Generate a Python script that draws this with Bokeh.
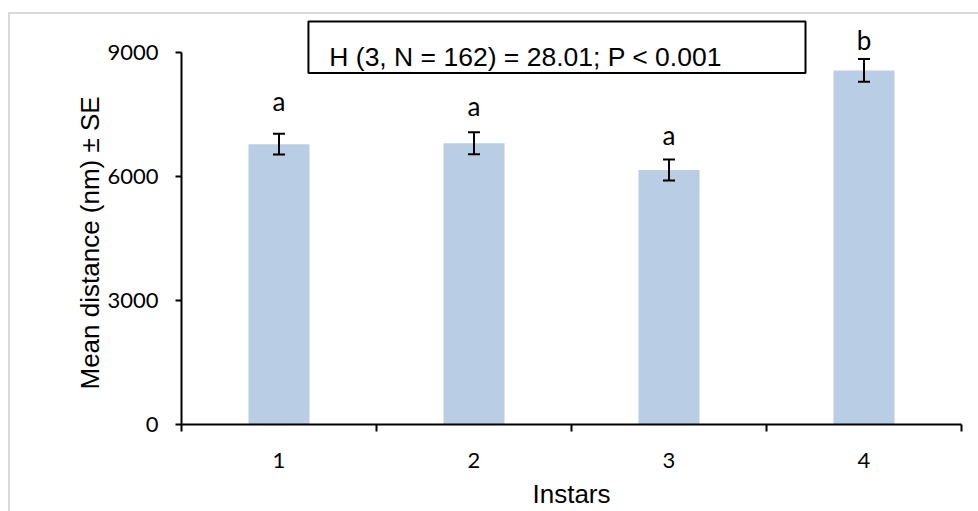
from bokeh.plotting import figure
from bokeh.models import (ColumnDataSource, Range1d, FixedTicker, Whisker, TeeHead,
                          BoxAnnotation, Label, Title, InlineStyleSheet)
from bokeh.embed import file_html
from bokeh.resources import INLINE

# ---- data ----
instars = [1, 2, 3, 4]
instar_labels = ["1", "2", "3", "4"]
mean_distance = [6775, 6800, 6152, 8557]
se = [250, 265, 256, 275]
group_letters = ["a", "a", "a", "b"]
letter_y = [7571, 7468, 6755, 9048]
y_ticks = [0, 3000, 6000, 9000]
stat_text = "H (3, N = 162) = 28.01; P < 0.001"
y_title = "Mean distance (nm) ± SE"
x_title = "Instars"

lower = [m - s for m, s in zip(mean_distance, se)]
upper = [m + s for m, s in zip(mean_distance, se)]
src = ColumnDataSource(dict(x=instars, top=mean_distance, lower=lower, upper=upper,
                            letter=group_letters, ly=letter_y))

p = figure(width=978, height=511, output_backend="svg", toolbar_location=None,
           x_range=Range1d(0.5, 4.5), y_range=Range1d(0, 9910),
           min_border_left=181, min_border_right=17, min_border_top=14, min_border_bottom=83)
p.outline_line_color = None
p.grid.grid_line_color = None
p.background_fill_color = "white"
p.border_fill_color = "white"

p.vbar(x="x", top="top", width=0.313, bottom=0, source=src,
       fill_color="#b9cde5", line_color=None)

w = Whisker(source=src, base="x", lower="lower", upper="upper", level="overlay",
            line_color="black", line_width=2,
            lower_head=TeeHead(size=12, line_color="black", line_width=2),
            upper_head=TeeHead(size=12, line_color="black", line_width=2))
p.add_layout(w)

p.text(x="x", y="ly", text="letter", source=src, text_align="center",
       text_baseline="alphabetic", text_font={"value": "Lato"}, text_font_size="26px",
       text_color="black", y_offset=-10)

# statistics box
box = BoxAnnotation(left=1.151, right=3.70, bottom=8497, top=9742, level="overlay",
                    fill_color="white", fill_alpha=1.0, line_color="black",
                    line_alpha=1.0, line_width=2)
p.add_layout(box)
p.add_layout(Label(x=1.258, y=8641, y_offset=10, text=stat_text, text_font="Liberation Sans",
                   text_font_size="26.5px", text_color="black", text_baseline="alphabetic",
                   level="overlay"))

# y axis title as a left-side title
p.add_layout(Title(text=y_title, align="left", offset=35, standoff=0,
                   text_font="Liberation Sans", text_font_size="26px",
                   text_font_style="normal", text_color="black"), "left")

# y axis
ya = p.yaxis[0]
ya.ticker = FixedTicker(ticks=y_ticks)
ya.bounds = (0, 9000)
ya.axis_line_width = 2
ya.axis_line_color = "black"
ya.major_tick_line_width = 2
ya.major_tick_line_color = "black"
ya.major_tick_out = 6
ya.major_tick_in = 0
ya.minor_tick_line_color = None
ya.major_label_text_font = "Lato"
ya.major_label_text_font_size = "22px"
ya.major_label_text_color = "black"
ya.major_label_standoff = 17

# x axis
xa = p.xaxis[0]
xa.ticker = FixedTicker(ticks=instars, minor_ticks=[0.5, 1.5, 2.5, 3.5, 4.5])
xa.major_label_overrides = {i: l for i, l in zip(instars, instar_labels)}
xa.axis_line_width = 2
xa.axis_line_color = "black"
xa.major_tick_out = 0
xa.major_tick_in = 0
xa.major_tick_line_color = None
xa.minor_tick_out = 7
xa.minor_tick_in = 0
xa.minor_tick_line_width = 2
xa.minor_tick_line_color = "black"
xa.major_label_text_font = "Lato"
xa.major_label_text_font_size = "22px"
xa.major_label_text_color = "black"
xa.major_label_standoff = 21
xa.axis_label = x_title
xa.axis_label_text_font = "Liberation Sans"
xa.axis_label_text_font_size = "26px"
xa.axis_label_text_font_style = "normal"
xa.axis_label_text_color = "black"
xa.axis_label_standoff = 8

p.stylesheets = [InlineStyleSheet(css=":host::after{content:'';position:absolute;left:8px;top:12px;right:0;bottom:0;border-left:2px solid #d9d9d9;border-top:2px solid #d9d9d9;pointer-events:none;z-index:10;}")]

open("out.html", "w").write(file_html(p, INLINE))
